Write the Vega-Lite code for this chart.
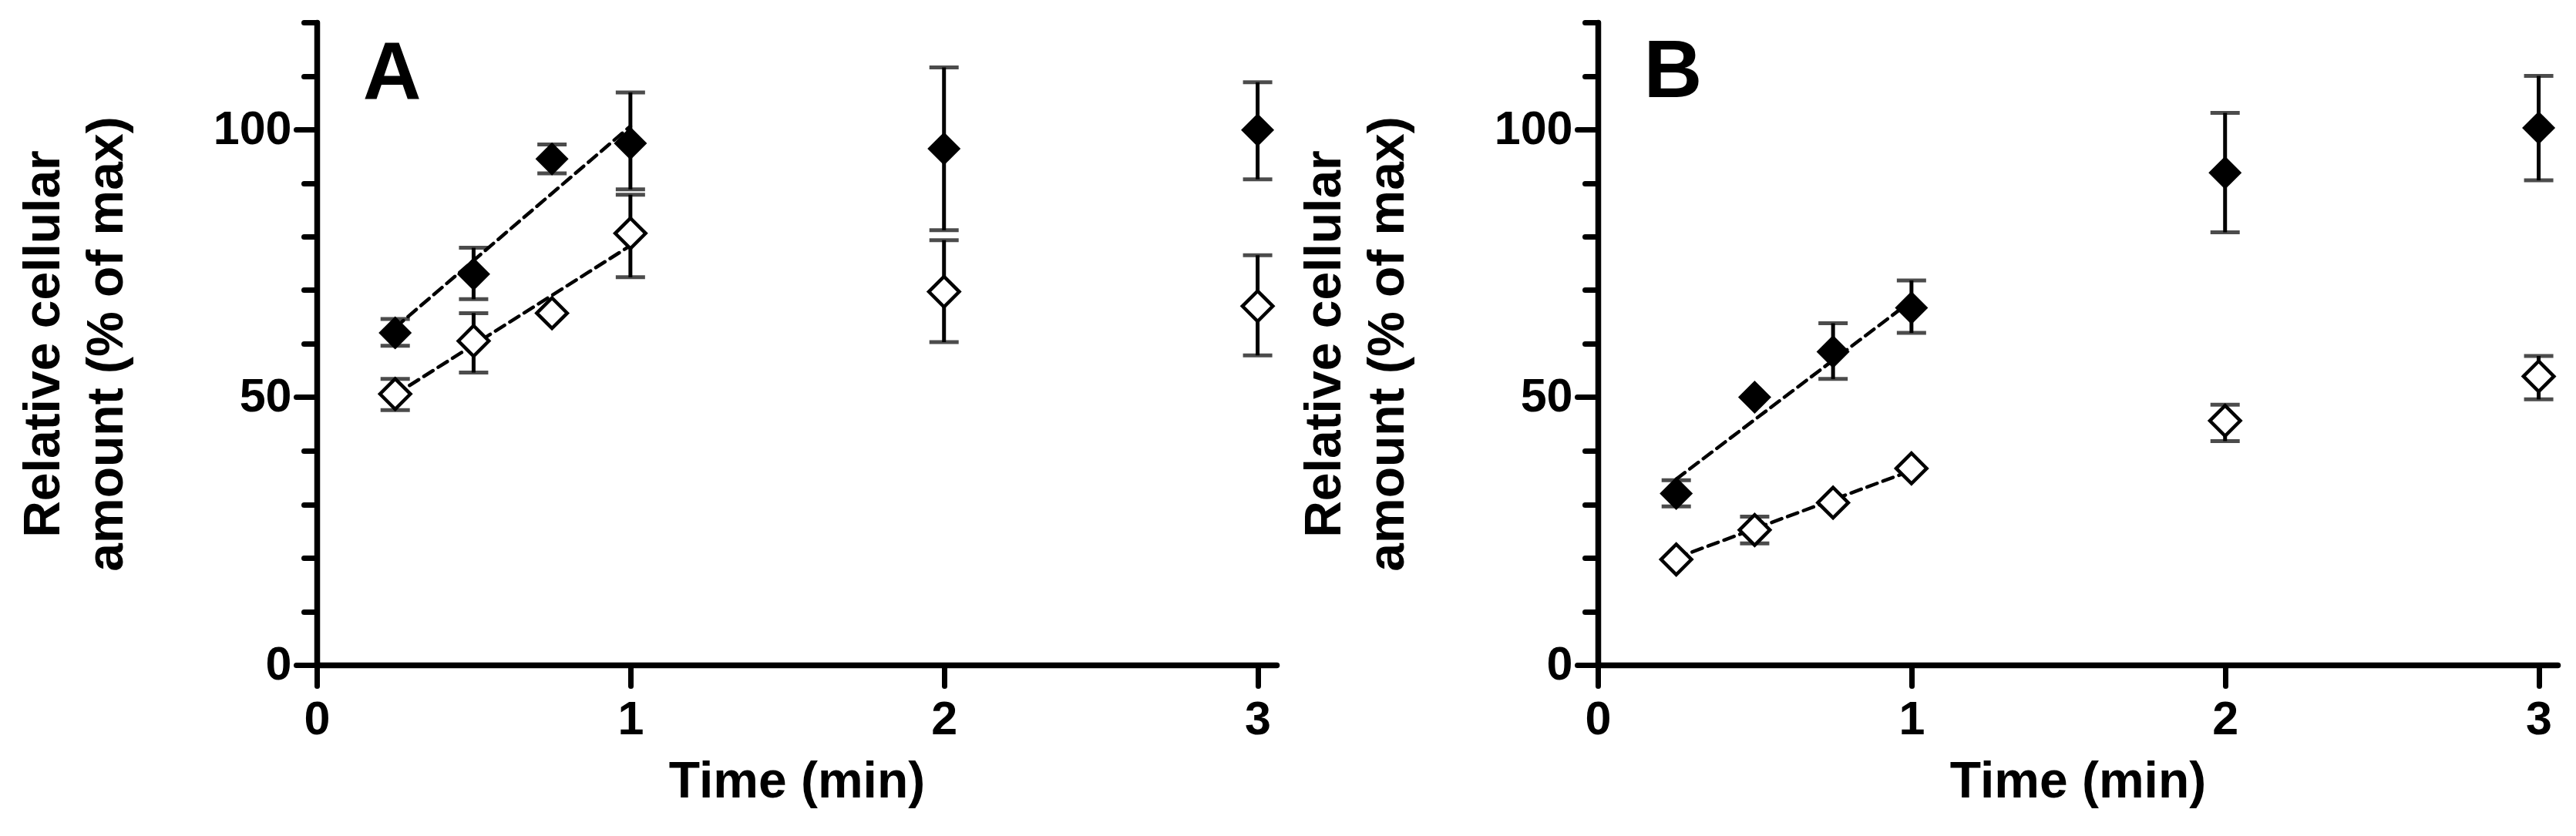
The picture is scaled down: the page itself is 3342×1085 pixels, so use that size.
{
  "$schema": "https://vega.github.io/schema/vega-lite/v6.json",
  "padding": {"left": 23, "top": 25, "right": 5, "bottom": 5},
  "spacing": 24,
  "background": "white",
  "config": {
    "view": {"stroke": null},
    "font": "Liberation Sans, Arial, sans-serif",
    "axis": {
      "grid": false,
      "domainColor": "black",
      "domainWidth": 7.5,
      "domainCap": "round",
      "tickColor": "black",
      "tickWidth": 7,
      "tickCap": "round",
      "labelFont": "Liberation Sans, Arial, sans-serif",
      "labelFontWeight": "bold",
      "labelColor": "black",
      "titleFont": "Liberation Sans, Arial, sans-serif",
      "titleFontWeight": "bold",
      "titleFontSize": 66,
      "titleColor": "black"
    }
  },
  "datasets": {
    "points": [
      {"panel": "A", "series": "filled", "t": 0.25, "y": 62.0, "eu": 2.6, "ed": -2.4},
      {"panel": "A", "series": "filled", "t": 0.5, "y": 73.0, "eu": 4.9, "ed": -4.7},
      {"panel": "A", "series": "filled", "t": 0.75, "y": 94.5, "eu": 2.7, "ed": -2.7},
      {"panel": "A", "series": "filled", "t": 1, "y": 97.4, "eu": 9.5, "ed": -8.6},
      {"panel": "A", "series": "filled", "t": 2, "y": 96.4, "eu": 15.2, "ed": -15.2},
      {"panel": "A", "series": "filled", "t": 3, "y": 99.9, "eu": 8.9, "ed": -9.2},
      {"panel": "A", "series": "open", "t": 0.25, "y": 50.6, "eu": 2.8, "ed": -3.0},
      {"panel": "A", "series": "open", "t": 0.5, "y": 60.5, "eu": 5.2, "ed": -5.9},
      {"panel": "A", "series": "open", "t": 0.75, "y": 65.7, "eu": null, "ed": null},
      {"panel": "A", "series": "open", "t": 1, "y": 80.6, "eu": 7.2, "ed": -8.2},
      {"panel": "A", "series": "open", "t": 2, "y": 69.7, "eu": 9.6, "ed": -9.4},
      {"panel": "A", "series": "open", "t": 3, "y": 67.0, "eu": 9.5, "ed": -9.2},
      {"panel": "B", "series": "filled", "t": 0.25, "y": 32.0, "eu": 2.5, "ed": -2.4},
      {"panel": "B", "series": "filled", "t": 0.5, "y": 50.0, "eu": null, "ed": null},
      {"panel": "B", "series": "filled", "t": 0.75, "y": 58.5, "eu": 5.3, "ed": -5.1},
      {"panel": "B", "series": "filled", "t": 1, "y": 66.7, "eu": 5.1, "ed": -4.7},
      {"panel": "B", "series": "filled", "t": 2, "y": 91.9, "eu": 11.2, "ed": -11.1},
      {"panel": "B", "series": "filled", "t": 3, "y": 100.3, "eu": 9.7, "ed": -9.8},
      {"panel": "B", "series": "open", "t": 0.25, "y": 19.7, "eu": null, "ed": null},
      {"panel": "B", "series": "open", "t": 0.5, "y": 25.2, "eu": 2.5, "ed": -2.5},
      {"panel": "B", "series": "open", "t": 0.75, "y": 30.3, "eu": null, "ed": null},
      {"panel": "B", "series": "open", "t": 1, "y": 36.7, "eu": null, "ed": null},
      {"panel": "B", "series": "open", "t": 2, "y": 45.6, "eu": 3.0, "ed": -3.8},
      {"panel": "B", "series": "open", "t": 3, "y": 53.9, "eu": 3.8, "ed": -4.3}
    ],
    "fits": [
      {"panel": "A", "series": "filled", "t": 0.25, "y": 63.0},
      {"panel": "A", "series": "filled", "t": 1, "y": 100.6},
      {"panel": "A", "series": "open", "t": 0.25, "y": 50.5},
      {"panel": "A", "series": "open", "t": 1, "y": 78.3},
      {"panel": "B", "series": "filled", "t": 0.25, "y": 34.7},
      {"panel": "B", "series": "filled", "t": 1, "y": 68.0},
      {"panel": "B", "series": "open", "t": 0.25, "y": 20.0},
      {"panel": "B", "series": "open", "t": 1, "y": 36.3}
    ],
    "labels": [
      {"panel": "A", "t": 0.147, "y": 105.6, "text": "A"},
      {"panel": "B", "t": 0.146, "y": 106.0, "text": "B"}
    ]
  },
  "hconcat": [
    {
      "width": 1245,
      "height": 834,
      "encoding": {
        "x": {
          "field": "t", "type": "quantitative",
          "scale": {"domain": [0, 3.06], "nice": false, "zero": false},
          "axis": {
            "title": "Time (min)",
            "format": "d",
            "values": [0, 0.25, 0.5, 0.75, 1, 1.25, 1.5, 1.75, 2, 2.25, 2.5, 2.75, 3],
            "labelExpr": "datum.value % 1 === 0 ? datum.label : ''",
            "labelFontSize": {"condition": {"test": "datum.value % 1 === 0", "value": 61}, "value": 0},
            "tickSize": {"condition": {"test": "datum.value % 1 === 0", "value": 27}, "value": 15},
            "labelPadding": 14,
            "titlePadding": 18,
            "labelFlush": false,
            "labelOverlap": false
          }
        },
        "y": {
          "field": "y", "type": "quantitative",
          "scale": {"domain": [0, 120], "nice": false},
          "axis": {
            "title": ["Relative cellular", "amount (% of max)"],
            "titleLineHeight": 82,
            "values": [0, 10, 20, 30, 40, 50, 60, 70, 80, 90, 100, 110, 120],
            "labelExpr": "datum.value % 50 === 0 ? datum.label : ''",
            "labelFontSize": {"condition": {"test": "datum.value % 50 === 0", "value": 61}, "value": 0},
            "tickSize": {"condition": {"test": "datum.value % 50 === 0", "value": 27}, "value": 17},
            "labelPadding": 6,
            "titlePadding": 104,
            "labelFlush": false,
            "labelOverlap": false
          }
        }
      },
      "layer": [
        {
          "data": {"name": "fits"},
          "transform": [{"filter": "datum.panel === 'A'"}],
          "mark": {"type": "line", "strokeDash": [14, 8], "strokeWidth": 4.5, "color": "black", "strokeCap": "round"},
          "encoding": {"detail": {"field": "series"}}
        },
        {
          "data": {"name": "points"},
          "transform": [{"filter": "datum.panel === 'A' && isValid(datum.eu)"}],
          "mark": {"type": "errorbar", "color": "black", "ticks": {"size": 38, "thickness": 5, "color": "black"}, "rule": {"strokeWidth": 5, "color": "black"}},
          "encoding": {"yError": {"field": "eu"}, "yError2": {"field": "ed"}}
        },
        {
          "data": {"name": "points"},
          "transform": [{"filter": "datum.panel === 'A' && datum.series === 'open'"}],
          "mark": {"type": "point", "shape": "diamond", "filled": false, "fill": "white", "fillOpacity": 1, "stroke": "black", "strokeWidth": 4.5, "opacity": 1, "size": 1560}
        },
        {
          "data": {"name": "points"},
          "transform": [{"filter": "datum.panel === 'A' && datum.series === 'filled'"}],
          "mark": {"type": "point", "shape": "diamond", "filled": true, "color": "black", "opacity": 1, "size": 1850}
        },
        {
          "data": {"name": "labels"},
          "transform": [{"filter": "datum.panel === 'A'"}],
          "mark": {"type": "text", "align": "left", "baseline": "alphabetic", "fontSize": 105, "fontWeight": "bold", "color": "black", "font": "Liberation Sans, Arial, sans-serif"},
          "encoding": {"text": {"field": "text"}}
        }
      ]
    },
    {
      "width": 1245,
      "height": 834,
      "encoding": {
        "x": {
          "field": "t", "type": "quantitative",
          "scale": {"domain": [0, 3.06], "nice": false, "zero": false},
          "axis": {
            "title": "Time (min)",
            "format": "d",
            "values": [0, 0.25, 0.5, 0.75, 1, 1.25, 1.5, 1.75, 2, 2.25, 2.5, 2.75, 3],
            "labelExpr": "datum.value % 1 === 0 ? datum.label : ''",
            "labelFontSize": {"condition": {"test": "datum.value % 1 === 0", "value": 61}, "value": 0},
            "tickSize": {"condition": {"test": "datum.value % 1 === 0", "value": 27}, "value": 15},
            "labelPadding": 14,
            "titlePadding": 18,
            "labelFlush": false,
            "labelOverlap": false
          }
        },
        "y": {
          "field": "y", "type": "quantitative",
          "scale": {"domain": [0, 120], "nice": false},
          "axis": {
            "title": ["Relative cellular", "amount (% of max)"],
            "titleLineHeight": 82,
            "values": [0, 10, 20, 30, 40, 50, 60, 70, 80, 90, 100, 110, 120],
            "labelExpr": "datum.value % 50 === 0 ? datum.label : ''",
            "labelFontSize": {"condition": {"test": "datum.value % 50 === 0", "value": 61}, "value": 0},
            "tickSize": {"condition": {"test": "datum.value % 50 === 0", "value": 27}, "value": 17},
            "labelPadding": 6,
            "titlePadding": 104,
            "labelFlush": false,
            "labelOverlap": false
          }
        }
      },
      "layer": [
        {
          "data": {"name": "fits"},
          "transform": [{"filter": "datum.panel === 'B'"}],
          "mark": {"type": "line", "strokeDash": [14, 8], "strokeWidth": 4.5, "color": "black", "strokeCap": "round"},
          "encoding": {"detail": {"field": "series"}}
        },
        {
          "data": {"name": "points"},
          "transform": [{"filter": "datum.panel === 'B' && isValid(datum.eu)"}],
          "mark": {"type": "errorbar", "color": "black", "ticks": {"size": 38, "thickness": 5, "color": "black"}, "rule": {"strokeWidth": 5, "color": "black"}},
          "encoding": {"yError": {"field": "eu"}, "yError2": {"field": "ed"}}
        },
        {
          "data": {"name": "points"},
          "transform": [{"filter": "datum.panel === 'B' && datum.series === 'open'"}],
          "mark": {"type": "point", "shape": "diamond", "filled": false, "fill": "white", "fillOpacity": 1, "stroke": "black", "strokeWidth": 4.5, "opacity": 1, "size": 1560}
        },
        {
          "data": {"name": "points"},
          "transform": [{"filter": "datum.panel === 'B' && datum.series === 'filled'"}],
          "mark": {"type": "point", "shape": "diamond", "filled": true, "color": "black", "opacity": 1, "size": 1850}
        },
        {
          "data": {"name": "labels"},
          "transform": [{"filter": "datum.panel === 'B'"}],
          "mark": {"type": "text", "align": "left", "baseline": "alphabetic", "fontSize": 105, "fontWeight": "bold", "color": "black", "font": "Liberation Sans, Arial, sans-serif"},
          "encoding": {"text": {"field": "text"}}
        }
      ]
    }
  ]
}
